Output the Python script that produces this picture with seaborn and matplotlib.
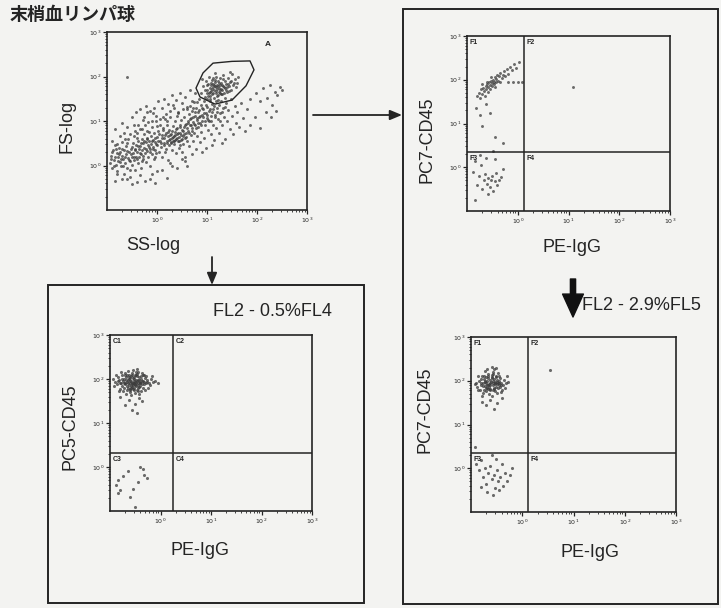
import numpy as np
import pandas as pd
import matplotlib
matplotlib.use("Agg")
import matplotlib.pyplot as plt
import seaborn as sns
from matplotlib.patches import Rectangle, Polygon
from matplotlib.ticker import LogLocator, NullFormatter, FixedLocator, FixedFormatter

# ---------------- data (log10 values of each event) ----------------
TITLE = "末梢血リンパ球"

# FS/SS plot: main cloud
TL_MAIN = [(-0.95,0.05),(-0.92,0.22),(-0.9,-0.05),(-0.88,0.35),(-0.86,0.12),(-0.85,0.45),(-0.83,0.02),(-0.81,0.28),(-0.8,-0.12),(-0.78,0.18),(-0.77,0.4),(-0.75,0.08),(-0.74,0.3),(-0.72,-0.02),(-0.71,0.22),(-0.7,0.52),(-0.68,0.14),(-0.67,-0.18),(-0.66,0.34),(-0.64,0.06),(-0.63,0.25),(-0.62,0.44),(-0.6,-0.06),(-0.59,0.17),(-0.58,0.6),(-0.56,0.3),(-0.55,0.1),(-0.54,-0.25),(-0.52,0.38),(-0.51,0.2),(-0.5,0.02),
    (-0.49,0.5),(-0.48,0.28),(-0.47,0.12),(-0.46,0.66),(-0.45,0.36),(-0.44,-0.1),(-0.43,0.2),(-0.42,0.46),(-0.41,0.74),(-0.4,0.3),(-0.39,0.05),(-0.38,0.55),(-0.37,0.38),(-0.36,0.18),(-0.35,0.82),(-0.34,0.44),(-0.33,0.26),(-0.32,-0.05),(-0.31,0.6),(-0.3,0.35),(-0.29,0.5),(-0.28,0.14),(-0.27,0.7),(-0.26,0.4),(-0.25,0.28),(-0.24,0.9),(-0.23,0.52),(-0.22,0.08),(-0.21,0.62),(-0.2,0.33),(-0.19,0.45),(-0.18,0.2),(-0.17,0.75),(-0.16,0.56),(-0.15,0.38),(-0.14,0.0),(-0.13,0.66),(-0.12,0.48),(-0.11,0.25),(-0.1,0.86),(-0.09,0.42),(-0.08,0.58),(-0.07,0.15),(-0.06,0.72),(-0.05,0.35),(-0.04,0.52),(-0.03,1.0),(-0.02,0.28),(-0.01,0.64),(0.0,0.45),
    (0.02,0.78),(0.03,0.3),(0.05,0.55),(0.06,0.92),(0.08,0.42),(0.09,0.68),(0.1,0.2),(0.12,0.84),(0.13,0.5),(0.14,0.62),(0.15,1.05),(0.17,0.36),(0.18,0.74),(0.19,0.56),(0.2,0.9),(0.21,0.12),(0.22,0.66),(0.23,0.45),(0.24,0.8),(0.25,0.6),(0.26,1.1),(0.27,0.52),(0.28,0.7),(0.29,0.34),(0.3,0.62),(0.31,0.88),(0.32,0.56),(0.33,0.66),(0.34,0.48),(0.35,0.76),(0.36,1.0),(0.37,0.6),(0.38,0.28),(0.39,0.7),(0.4,0.84),(0.41,0.54),(0.42,1.18),(0.43,0.64),(0.44,0.4),(0.45,0.92),(0.46,0.72),(0.47,0.58),(0.48,1.02),(0.49,0.3),(0.5,0.8),(0.51,0.66),(0.52,0.48),(0.53,1.1),(0.54,0.86),(0.55,0.62),(0.56,0.2),(0.57,0.94),(0.58,0.74),(0.59,1.26),(0.6,0.55),
    (0.61,1.0),(0.62,0.78),(0.63,1.16),(0.64,0.44),(0.65,0.9),(0.66,1.34),(0.67,0.68),(0.68,1.06),(0.69,0.84),(0.7,1.22),(0.71,0.56),(0.72,0.98),(0.73,1.42),(0.74,0.74),(0.75,1.12),(0.76,0.9),(0.77,0.36),(0.78,1.3),(0.79,1.02),(0.8,0.66),(0.81,1.2),(0.82,0.86),(0.83,1.5),(0.84,1.08),(0.85,0.52),(0.86,0.96),(0.87,1.36),(0.88,0.76),(0.89,1.14),(0.9,1.0),(0.92,1.28),(0.93,0.62),(0.94,1.44),(0.95,0.9),(0.97,1.18),(0.98,0.4),(0.99,1.06),(1.0,1.32),(1.02,0.8),(1.03,1.22),(1.04,1.0),(1.06,1.5),(1.07,0.7),(1.08,1.12),(1.1,1.38),(1.11,0.92),(1.12,1.26),(1.14,0.58),(1.15,1.08),(1.17,1.44),(1.18,0.84),(1.19,1.2),
    (1.21,1.04),(1.23,1.36),(1.24,0.72),(1.26,1.18),(1.28,1.46),(1.3,0.9),(1.32,1.3),(1.34,1.1),(1.36,0.6),(1.38,1.4),(1.4,1.0),(1.42,1.24),(1.45,0.82),(1.47,1.5),(1.5,1.12),(1.52,0.7),(1.55,1.34),(1.58,0.96),(1.6,1.2),(1.64,0.86),(1.68,1.4),(1.72,1.06),(1.76,0.78),(1.8,1.28),(1.86,0.92),(1.95,1.1),(2.05,0.84),
    (-0.7,-0.3),(-0.4,-0.38),(-0.1,-0.2),(0.1,-0.1),(0.3,0.0),(0.55,0.1),(0.2,-0.28),(-0.25,-0.35),(-0.6,1.99),(-0.2,1.2)]
# FS/SS plot: denser core of the main cloud
TL_CORE = [(-0.93,0.15),(-0.9,0.3),(-0.87,0.0),(-0.84,0.2),(-0.82,0.38),(-0.79,0.1),(-0.76,0.26),(-0.73,0.15),(-0.7,0.36),(-0.69,0.0),(-0.65,0.2),(-0.61,0.32),(-0.57,0.12),(-0.53,0.26),(-0.5,0.42),(-0.47,0.2),(-0.44,0.34),(-0.41,0.14),(-0.38,0.44),(-0.35,0.28),(-0.32,0.5),(-0.29,0.22),(-0.26,0.56),(-0.23,0.36),(-0.2,0.6),(-0.17,0.42),(-0.14,0.3),(-0.11,0.55),(-0.08,0.38),(-0.05,0.62),(-0.02,0.48),(0.01,0.56),(0.04,0.7),(0.07,0.5),(0.1,0.62),(0.11,0.8),(0.14,0.46),(0.16,0.68),(0.19,0.5),(0.21,0.76),(0.24,0.58),(0.26,0.68),(0.28,0.5),(0.3,0.78),(0.32,0.64),(0.33,0.54),(0.35,0.68),(0.36,0.58),(0.38,0.82),(0.4,0.62),(0.42,0.74),(0.44,0.56),(0.46,0.86),(0.48,0.68),(0.5,0.6),(0.52,0.78),(0.54,0.7),(0.56,0.9),(0.58,0.64),(0.6,0.84),(0.62,0.96),(0.64,0.72),(0.66,1.04),(0.68,0.9),(0.7,0.78),(0.72,1.1),(0.74,0.94),(0.76,1.2),(0.78,0.84),(0.8,1.06),(0.82,0.96),(0.84,1.24),(0.86,1.12),(0.88,0.92),(0.9,1.3),(0.92,1.08),(0.94,1.18),(0.96,1.0),(0.98,1.36),(1.0,1.14),(1.02,1.02),(1.05,1.26),(1.08,1.0),(1.1,1.2),(1.13,1.34),(1.16,1.14),(1.2,1.3),(1.25,1.0),(1.3,1.2),(1.35,1.32),(-0.6,0.5),(-0.4,0.62),(-0.2,0.78),(0.0,0.88),(0.2,1.0),(0.4,1.12),(-0.8,-0.2),(-0.55,-0.1),(-0.3,0.1),(-0.05,0.2),(0.15,0.3),(0.45,0.45)]
# FS/SS plot: upper and lower fringes of the main cloud
TL_FRINGE = [(-0.9,0.55),(-0.85,0.82),(-0.8,0.48),(-0.75,0.66),(-0.7,0.95),(-0.65,0.6),(-0.6,0.86),(-0.55,0.7),(-0.5,1.08),(-0.45,0.78),(-0.42,1.2),(-0.38,0.92),(-0.34,1.28),(-0.3,0.82),(-0.26,1.1),(-0.22,1.34),(-0.18,0.98),(-0.14,1.22),(-0.1,1.0),(-0.06,1.3),(-0.02,1.12),(0.02,1.44),(0.06,1.05),(0.1,1.3),(0.14,1.5),(0.18,1.16),(0.22,1.38),(0.26,1.22),(0.3,1.58),(0.34,1.3),(0.38,1.48),(0.42,1.2),(0.46,1.64),(0.5,1.4),(0.55,1.55),(0.6,1.32),(0.65,1.7),(0.7,1.46),(0.75,1.62),(0.8,1.42),
    (-0.67,0.74),(-0.47,0.9),(-0.28,1.02),(-0.08,1.18),(0.12,1.1),(0.32,1.36),(0.52,1.26),(0.72,1.3),
    (-0.6,-0.3),(-0.5,-0.42),(-0.35,-0.22),(-0.15,-0.3),(0.0,-0.12),(0.25,0.05),(0.4,-0.05),(0.5,0.15),(0.7,0.25),(0.9,0.3),(1.1,0.45),(1.3,0.5),(-0.85,-0.35),(-0.05,-0.4),(0.6,0.0)]
# FS/SS plot: gated lymphocyte cluster
TL_GATED = [(0.88,1.62),(0.92,1.78),(0.95,1.55),(0.97,1.9),(0.99,1.7),(1.0,1.5),(1.02,1.84),(1.03,1.64),(1.04,1.98),(1.05,1.74),(1.06,1.56),(1.07,1.8),(1.08,1.68),(1.09,1.92),(1.1,1.6),(1.11,1.76),(1.12,1.84),(1.13,1.7),(1.14,1.52),(1.15,1.88),(1.16,1.78),(1.17,1.64),(1.18,2.0),(1.19,1.72),(1.2,1.82),(1.21,1.58),(1.22,1.9),(1.23,1.74),(1.24,1.66),(1.25,1.96),(1.26,1.8),(1.27,1.6),(1.28,1.86),(1.3,1.7),(1.31,2.04),(1.32,1.78),(1.34,1.62),(1.35,1.9),(1.36,1.74),(1.38,1.84),(1.4,1.66),(1.42,1.96),(1.44,1.78),(1.46,1.88),(1.48,1.7),(1.5,2.06),(1.52,1.82),(1.55,1.94),(1.58,1.76),(1.62,2.0),(1.05,1.44),(1.22,1.48),(0.9,1.95),(1.15,2.08),(1.35,1.52),(1.45,2.1),(1.6,1.86),(1.0,1.62),(1.12,1.96),(1.28,1.72),
    (0.95,1.7),(1.0,1.8),(1.05,1.66),(1.1,1.72),(1.14,1.8),(1.18,1.68),(1.22,1.78),(1.26,1.7),(1.3,1.82),(1.34,1.76),(1.38,1.7),(1.42,1.84),(1.08,1.86),(1.16,1.92),(1.24,1.86),(1.32,1.94),(1.4,1.76),(1.48,1.9),(1.02,1.56),(1.12,1.62),(1.2,1.56),(1.3,1.6),(1.44,1.68),(1.54,1.86),(1.18,1.76),(1.26,1.62)]
# FS/SS plot: scattered events right of the gate
TL_RIGHT = [(2.12,1.74),(2.2,1.52),(2.25,1.8),(2.3,1.36),(2.35,1.66),(2.4,1.58),(2.45,1.76),(2.18,1.2),(2.05,1.44),(2.38,1.22),(2.5,1.7),(1.98,1.62),(2.28,1.1),(1.85,1.5)]
# Gate A outline
GATE_A = [(0.78,1.74),(0.92,2.08),(1.12,2.30),(1.5,2.34),(1.86,2.35),(1.94,2.15),(1.78,1.79),(1.5,1.47),(1.16,1.38),(0.86,1.54)]

# PE-IgG / PC7-CD45 (top right)
TR_POS = [(-0.8,1.62),(-0.76,1.7),(-0.74,1.58),(-0.72,1.78),(-0.7,1.68),(-0.68,1.82),(-0.66,1.74),(-0.65,1.64),(-0.63,1.86),(-0.62,1.78),(-0.6,1.9),(-0.59,1.72),(-0.58,1.84),(-0.56,1.94),(-0.55,1.8),(-0.54,1.88),(-0.52,1.98),(-0.51,1.86),(-0.5,1.92),(-0.48,2.0),(-0.47,1.9),(-0.46,1.96),(-0.44,2.06),(-0.43,1.94),(-0.42,2.02),(-0.4,2.1),(-0.38,1.98),(-0.36,2.08),(-0.34,2.16),(-0.32,2.04),(-0.3,2.12),(-0.27,2.2),(-0.25,2.08),(-0.22,2.24),(-0.2,2.14),(-0.16,2.3),(-0.12,2.22),(-0.08,2.36),(-0.04,2.28),(0.02,2.4),(-0.6,1.96),(-0.45,1.84),(-0.35,1.94),(-0.7,1.9),(-0.53,2.06),
    (-0.2,1.94),(-0.1,1.95),(0.0,1.94),(0.08,1.95),
    (-0.82,1.35),(-0.75,1.2),(-0.62,1.45),(-0.7,0.95),(-0.55,1.25),(-0.45,0.7),(-0.48,0.38),(-0.3,0.55),(1.09,1.84)]
TR_NEG = [(-0.88,-0.1),(-0.84,0.15),(-0.8,-0.4),(-0.76,-0.2),(-0.72,0.05),(-0.7,-0.5),(-0.66,-0.3),(-0.64,-0.15),(-0.6,-0.38),(-0.58,-0.25),(-0.55,-0.45),(-0.52,-0.3),(-0.5,-0.2),(-0.48,-0.55),(-0.45,-0.32),(-0.42,-0.12),(-0.4,-0.4),(-0.36,-0.28),(-0.33,-0.22),(-0.3,-0.05),(-0.62,0.22),(-0.45,0.18),(-0.85,-0.75),(-0.58,-0.62),(-0.75,0.28)]

# PE-IgG / PC5-CD45 (bottom left)
BL_POS = [(-0.54,1.92),(-0.5,1.88),(-0.58,1.95),(-0.46,1.96),(-0.62,1.86),(-0.52,2.0),(-0.56,1.82),(-0.44,1.9),(-0.66,1.94),(-0.48,1.84),(-0.6,2.02),(-0.4,1.94),(-0.7,1.88),(-0.55,1.78),(-0.42,2.04),(-0.64,1.8),(-0.5,2.08),(-0.36,1.88),(-0.74,1.96),(-0.58,2.06),(-0.45,1.8),(-0.68,2.04),(-0.38,2.0),(-0.78,1.9),(-0.52,1.74),(-0.32,1.94),(-0.62,2.1),(-0.47,2.12),(-0.72,1.8),(-0.4,1.84),(-0.82,1.98),(-0.56,2.14),(-0.3,2.02),(-0.66,1.74),(-0.35,1.8),(-0.86,1.88),(-0.6,1.7),(-0.44,2.16),(-0.76,2.08),(-0.28,1.9),(-0.5,1.68),(-0.7,2.14),(-0.26,1.98),(-0.9,1.94),(-0.54,2.2),(-0.38,1.72),(-0.8,1.78),(-0.22,1.92),(-0.64,2.18),(-0.42,1.66),(-0.84,2.04),(-0.2,1.86),(-0.58,1.64),(-0.46,2.22),(-0.74,1.72),(-0.32,2.1),(-0.92,1.84),(-0.18,2.0),(-0.68,1.66),(-0.36,2.14),(-0.52,1.9),(-0.6,1.92),(-0.48,1.98),(-0.56,1.88),(-0.44,1.86),(-0.64,1.98),(-0.5,1.94),(-0.4,1.9),(-0.7,1.92),(-0.58,1.84),(-0.34,1.96),(-0.62,2.0),(-0.52,2.04),(-0.46,1.76),(-0.76,1.84),(-0.28,2.06),(-0.66,2.08),(-0.42,1.98),(-0.54,1.86),(-0.6,1.78),(-0.14,1.94),(-0.88,2.1),(-0.24,1.8),(-0.78,2.16),(-0.3,1.76),(-0.72,2.0),(-0.48,2.1),(-0.82,1.72),(-0.16,2.06),(-0.94,2.0),
    (-0.53,1.95),(-0.57,1.9),(-0.49,1.92),(-0.61,1.96),(-0.45,1.98),(-0.65,1.9),(-0.41,1.92),(-0.69,1.98),(-0.51,1.86),(-0.55,2.02),(-0.47,2.06),(-0.59,1.8),(-0.63,2.04),(-0.43,1.82),(-0.73,1.92),(-0.37,1.96),(-0.33,1.88),(-0.77,2.0),(-0.53,1.8),(-0.57,2.1),(-0.67,1.84),(-0.39,2.06),(-0.27,1.94),(-0.81,1.92),(-0.49,2.16),(-0.61,1.76),(-0.45,1.72),(-0.71,2.1),(-0.35,2.08),(-0.85,1.96),
    (-0.62,1.52),(-0.5,1.44),(-0.7,1.4),(-0.42,1.56),(-0.56,1.3),(-0.36,1.5),(-0.8,1.58),(-0.46,1.22),(-0.1,1.96),(-0.05,1.9)]
BL_NEG = [(-0.41,0.0),(-0.35,-0.05),(-0.27,-0.25),(-0.84,-0.3),(-0.8,-0.52),(-0.6,-0.68),(-0.5,-0.9),(-0.88,-0.4),(-0.75,-0.2),(-0.32,-0.18),(-0.55,-0.5),(-0.65,-0.1),(-0.45,-0.35),(-0.85,-0.6)]

# PE-IgG / PC7-CD45 (bottom right)
BR_POS = [(-0.63,1.95),(-0.58,1.9),(-0.68,2.0),(-0.54,1.98),(-0.72,1.88),(-0.6,2.06),(-0.66,1.82),(-0.5,1.92),(-0.76,1.96),(-0.56,1.84),(-0.7,2.08),(-0.46,2.0),(-0.8,1.9),(-0.62,1.78),(-0.52,2.1),(-0.74,1.8),(-0.6,2.14),(-0.44,1.86),(-0.84,2.0),(-0.66,2.16),(-0.54,1.76),(-0.78,2.1),(-0.42,1.96),(-0.88,1.86),(-0.58,2.2),(-0.38,1.9),(-0.72,2.22),(-0.5,1.72),(-0.82,1.78),(-0.46,2.12),(-0.9,1.96),(-0.64,1.7),(-0.36,2.02),(-0.76,1.72),(-0.56,2.26),(-0.4,1.8),(-0.86,2.12),(-0.68,2.28),(-0.32,1.94),(-0.6,1.66),(-0.48,2.18),(-0.92,1.92),(-0.7,1.94),(-0.62,2.02),(-0.58,1.96),(-0.66,1.9),(-0.52,1.86),(-0.74,2.04),(-0.56,2.04),(-0.64,1.86),(-0.48,1.94),(-0.8,2.04),(-0.44,2.06),(-0.7,1.76),(-0.34,1.84),(-0.28,1.98),(-0.6,2.32),(-0.52,2.3),(-0.78,1.66),(-0.3,2.1),(-0.86,1.8),(-0.42,1.74),(-0.66,2.12),(-0.54,1.92),(-0.72,1.98),(-0.62,1.9),(-0.5,2.02),(-0.68,1.84),(-0.58,1.8),(-0.46,1.9),
    (-0.61,1.97),(-0.65,1.93),(-0.57,1.99),(-0.69,1.9),(-0.53,1.94),(-0.73,2.0),(-0.49,1.98),(-0.77,1.88),(-0.59,2.08),(-0.67,2.06),(-0.55,1.82),(-0.63,1.82),(-0.45,1.96),(-0.81,1.96),(-0.51,2.08),(-0.71,1.84),(-0.41,1.9),(-0.75,2.12),(-0.57,2.16),(-0.47,1.84),
    (-0.62,1.55),(-0.5,1.5),(-0.7,1.45),(-0.56,1.36),(-0.4,1.6),(-0.78,1.52),(0.54,2.25)]
BR_NEG = [(-0.9,0.1),(-0.84,-0.05),(-0.8,0.2),(-0.76,-0.2),(-0.72,0.0),(-0.7,-0.35),(-0.66,-0.1),(-0.62,0.05),(-0.6,-0.25),(-0.56,-0.15),(-0.54,-0.45),(-0.5,-0.05),(-0.48,-0.3),(-0.44,-0.2),(-0.4,0.1),(-0.38,-0.4),(-0.34,-0.1),(-0.3,-0.28),(-0.24,-0.15),(-0.68,-0.55),(-0.58,-0.6),(-0.46,-0.5),(-0.8,-0.42),(-0.52,0.22),(-0.2,0.0),(-0.92,0.48),(-0.6,0.3)]

# quadrant cursors (log10 of PE-IgG, log10 of CD45)
QUAD_TR = (0.12, 0.35)
QUAD_BL = (0.25, 0.32)
QUAD_BR = (0.11, 0.35)
DECADES = [1, 10, 100, 1000]
DECADE_LABELS = [r"$10^{0}$", r"$10^{1}$", r"$10^{2}$", r"$10^{3}$"]

# ---------------- style ----------------
sns.set_theme(style="white")
plt.rcParams["font.family"] = ["Liberation Sans", "DejaVu Sans"]
BG = "#f3f3f1"
INK = "#242424"
DOT = "#3c3c3c"

W, H = 721, 608
fig = plt.figure(figsize=(W / 100, H / 100), dpi=100, facecolor=BG)


def rect(l, t, r, b):
    return [l / W, 1 - b / H, (r - l) / W, (b - t) / H]


def make_df(pts, group):
    a = np.asarray(pts, dtype=float)
    return pd.DataFrame({"x": 10 ** a[:, 0], "y": 10 ** a[:, 1], "g": group})


def style_axes(ax):
    ax.set_xscale("log")
    ax.set_yscale("log")
    ax.set_xlim(0.1, 1000)
    ax.set_ylim(0.1, 1000)
    ax.set_facecolor(BG)
    for s in ax.spines.values():
        s.set_color(INK)
        s.set_linewidth(1.2)
    for axis in (ax.xaxis, ax.yaxis):
        axis.set_major_locator(FixedLocator(DECADES))
        axis.set_major_formatter(FixedFormatter(DECADE_LABELS))
        axis.set_minor_locator(LogLocator(base=10, subs=np.arange(2, 10)))
        axis.set_minor_formatter(NullFormatter())
    ax.tick_params(which="both", bottom=True, left=True, top=False, right=False,
                   direction="out", colors=INK)
    ax.tick_params(which="major", length=3, width=0.9, labelsize=4.5, pad=1)
    ax.tick_params(which="minor", length=1.6, width=0.6)


def scatter(ax, frames, size=4.5):
    df = pd.concat(frames, ignore_index=True)
    sns.scatterplot(data=df, x="x", y="y", ax=ax, s=size, color=DOT,
                    linewidth=0, alpha=0.75, legend=False)
    style_axes(ax)


def labels(ax, xl, xpos, yl, ypos):
    ax.set_xlabel(xl, fontsize=13, color=INK)
    ax.set_ylabel(yl, fontsize=13, color=INK)
    ax.xaxis.set_label_coords(*xpos)
    ax.yaxis.set_label_coords(*ypos)
    ax.xaxis.label.set_va("center")
    ax.yaxis.label.set_va("center")


def quadrants(ax, q, names):
    qx, qy = 10 ** q[0], 10 ** q[1]
    ax.axvline(qx, color=INK, lw=1.1)
    ax.axhline(qy, color=INK, lw=1.1)
    spots = [(0.1, 1000), (qx, 1000), (0.1, qy), (qx, qy)]
    for name, xy in zip(names, spots):
        ax.annotate(name, xy=xy, xytext=(2, -2), textcoords="offset points",
                    ha="left", va="top", fontsize=5, fontweight="bold", color=INK)


# --- top-left: FS vs SS ---
ax1 = fig.add_axes(rect(107, 32, 307, 210))
scatter(ax1, [make_df(TL_MAIN, "main"), make_df(TL_CORE, "core"), make_df(TL_FRINGE, "fringe"),
              make_df(TL_GATED, "gate"), make_df(TL_RIGHT, "right")], size=4.5)
g = np.asarray(GATE_A)
ax1.add_patch(Polygon(np.column_stack([10 ** g[:, 0], 10 ** g[:, 1]]), closed=True,
                      fill=False, ec=INK, lw=1.0, joinstyle="round"))
ax1.text(0.79, 0.92, "A", transform=ax1.transAxes, fontsize=6, fontweight="bold", color=INK)
labels(ax1, "SS-log", (0.23, -0.197), "FS-log", (-0.2, 0.47))

# --- top-right ---
ax2 = fig.add_axes(rect(467, 36, 670, 211))
scatter(ax2, [make_df(TR_POS, "pos"), make_df(TR_NEG, "neg")])
quadrants(ax2, QUAD_TR, ["F1", "F2", "F3", "F4"])
labels(ax2, "PE-IgG", (0.517, -0.206), "PC7-CD45", (-0.197, 0.406))

# --- bottom-left ---
ax3 = fig.add_axes(rect(110, 335, 312, 511))
scatter(ax3, [make_df(BL_POS, "pos"), make_df(BL_NEG, "neg")], size=5)
quadrants(ax3, QUAD_BL, ["C1", "C2", "C3", "C4"])
labels(ax3, "PE-IgG", (0.446, -0.222), "PC5-CD45", (-0.198, 0.477))

# --- bottom-right ---
ax4 = fig.add_axes(rect(471, 337, 676, 512))
scatter(ax4, [make_df(BR_POS, "pos"), make_df(BR_NEG, "neg")], size=5)
quadrants(ax4, QUAD_BR, ["F1", "F2", "F3", "F4"])
labels(ax4, "PE-IgG", (0.58, -0.234), "PC7-CD45", (-0.224, 0.583))

# ---------------- frames, arrows, texts ----------------
def P(x, y):
    return (x, H - y)

fig.add_artist(Rectangle(P(48, 603), 316, 318, transform=None, fill=False, ec=INK, lw=1.4))
fig.add_artist(Rectangle(P(403, 604), 315, 595, transform=None, fill=False, ec=INK, lw=1.4))

arrow_kw = dict(xycoords="figure pixels", textcoords="figure pixels")
fig.axes[0].annotate("", xy=P(402, 115), xytext=P(313, 115), annotation_clip=False,
                     arrowprops=dict(arrowstyle="-|>,head_width=0.25,head_length=0.6",
                                     lw=1.3, color=INK, shrinkA=0, shrinkB=0), **arrow_kw)
fig.axes[0].annotate("", xy=P(212, 285), xytext=P(212, 257), annotation_clip=False,
                     arrowprops=dict(arrowstyle="-|>,head_width=0.25,head_length=0.6",
                                     lw=1.3, color=INK, shrinkA=0, shrinkB=0), **arrow_kw)
fig.axes[0].annotate("", xy=P(573, 317), xytext=P(573, 279), annotation_clip=False,
                     arrowprops=dict(arrowstyle="simple,head_width=1.0,head_length=1.1,tail_width=0.25",
                                     mutation_scale=15, color="#111", shrinkA=0, shrinkB=0), **arrow_kw)

fig.text(10 / W, 1 - 15 / H, TITLE, fontsize=13, fontweight="bold", color=INK,
         ha="left", va="center", family=["Noto Sans CJK JP", "DejaVu Sans"])
fig.text(272 / W, 1 - 312 / H, "FL2 - 0.5%FL4", fontsize=13, color=INK, ha="center", va="center")
fig.text(582 / W, 1 - 305 / H, "FL2 - 2.9%FL5", fontsize=13, color=INK, ha="left", va="center")

fig.savefig("out.png", dpi=100, facecolor=BG)
